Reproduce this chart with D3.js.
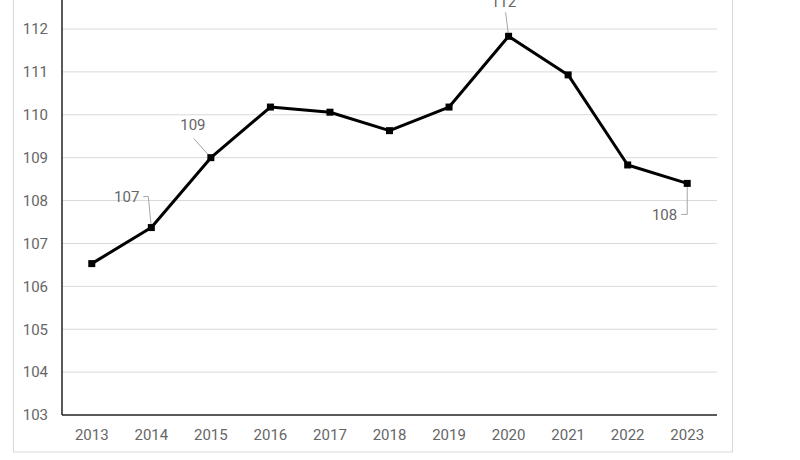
<html>
<head>
<script src="https://d3js.org/d3.v7.min.js"></script>
<style>
  body { margin: 0; background: #fff; }
  text { font-family: Roboto, "Liberation Sans", sans-serif; }
</style>
</head>
<body>
<div id="chart"></div>
<script>
var years = ["2013", "2014", "2015", "2016", "2017", "2018", "2019", "2020", "2021", "2022", "2023"];
var values = [106.53, 107.37, 109.0, 110.18, 110.06, 109.63, 110.18, 111.83, 110.93, 108.83, 108.4];
var yTicks = [103, 104, 105, 106, 107, 108, 109, 110, 111, 112];
// labelled points: year, text, and leader style
var callouts = [
    { year: "2014", text: "107", kind: "elbowLeft" },
    { year: "2015", text: "109", kind: "diag" },
    { year: "2020", text: "112", kind: "up" },
    { year: "2023", text: "108", kind: "elbowDown" }
];

var W = 800, H = 460;
var left = 62, right = 717, bottom = 415;

var svg = d3.select("#chart").append("svg")
    .attr("width", W)
    .attr("height", H);

// outer chart border (top is off the picture)
svg.append("rect")
    .attr("x", 13.5).attr("y", -40)
    .attr("width", 719).attr("height", 492)
    .attr("fill", "#fff")
    .attr("stroke", "#d9d9d9");

var x = d3.scaleBand().domain(years).range([left, right]);
var y = d3.scaleLinear().domain([103, 112]).range([bottom, 29]);

// gridlines
svg.append("g")
    .selectAll("line")
    .data(yTicks.slice(1))
    .join("line")
    .attr("x1", left).attr("x2", right)
    .attr("y1", function(d) { return y(d); })
    .attr("y2", function(d) { return y(d); })
    .attr("stroke", "#d9d9d9")
    .attr("stroke-width", 1);

// y axis
var yAxis = svg.append("g")
    .attr("transform", "translate(" + left + ",0)")
    .call(d3.axisLeft(y).tickValues(yTicks).tickSize(0).tickPadding(14));
yAxis.select(".domain").remove();
yAxis.selectAll("text").attr("font-size", 15).attr("fill", "#666");

svg.append("line")
    .attr("x1", left).attr("x2", left)
    .attr("y1", -20).attr("y2", bottom)
    .attr("stroke", "#222").attr("stroke-width", 1.5);

// x axis
var xAxis = svg.append("g")
    .attr("transform", "translate(0," + bottom + ")")
    .call(d3.axisBottom(x).tickSize(0).tickPadding(14));
xAxis.select(".domain").remove();
xAxis.selectAll("text").attr("font-size", 15).attr("fill", "#666");

svg.append("line")
    .attr("x1", left).attr("x2", right)
    .attr("y1", bottom).attr("y2", bottom)
    .attr("stroke", "#222").attr("stroke-width", 1.5);

var pts = years.map(function(d, i) {
    return { year: d, v: values[i], px: x(d) + x.bandwidth() / 2, py: y(values[i]) };
});

// leader lines and labels
var lab = svg.append("g").attr("font-size", 15).attr("fill", "#666");
callouts.forEach(function(c) {
    var p = pts.find(function(d) { return d.year === c.year; });
    var path, tx, ty, anchor;
    if (c.kind === "elbowLeft") {
        path = [[p.px, p.py], [p.px - 3, p.py - 31], [p.px - 8, p.py - 31]];
        tx = p.px - 12; ty = p.py - 26; anchor = "end";
    } else if (c.kind === "diag") {
        path = [[p.px, p.py], [p.px - 17, p.py - 19]];
        tx = p.px - 18; ty = p.py - 28; anchor = "middle";
    } else if (c.kind === "up") {
        path = [[p.px, p.py], [p.px - 3, p.py - 24]];
        tx = p.px - 5; ty = p.py - 29; anchor = "middle";
    } else {
        path = [[p.px, p.py], [p.px, p.py + 31], [p.px - 6, p.py + 31]];
        tx = p.px - 10; ty = p.py + 37; anchor = "end";
    }
    svg.append("path")
        .attr("d", d3.line()(path))
        .attr("fill", "none")
        .attr("stroke", "#a6a6a6")
        .attr("stroke-width", 1);
    lab.append("text")
        .attr("x", tx).attr("y", ty)
        .attr("text-anchor", anchor)
        .text(c.text);
});

// main line
svg.append("path")
    .datum(pts)
    .attr("d", d3.line().x(function(d) { return d.px; }).y(function(d) { return d.py; }))
    .attr("fill", "none")
    .attr("stroke", "#000")
    .attr("stroke-width", 3)
    .attr("stroke-linejoin", "round");

svg.append("g")
    .selectAll("rect")
    .data(pts)
    .join("rect")
    .attr("x", function(d) { return d.px - 3.5; })
    .attr("y", function(d) { return d.py - 3.5; })
    .attr("width", 7).attr("height", 7)
    .attr("fill", "#000");
</script>
</body>
</html>
